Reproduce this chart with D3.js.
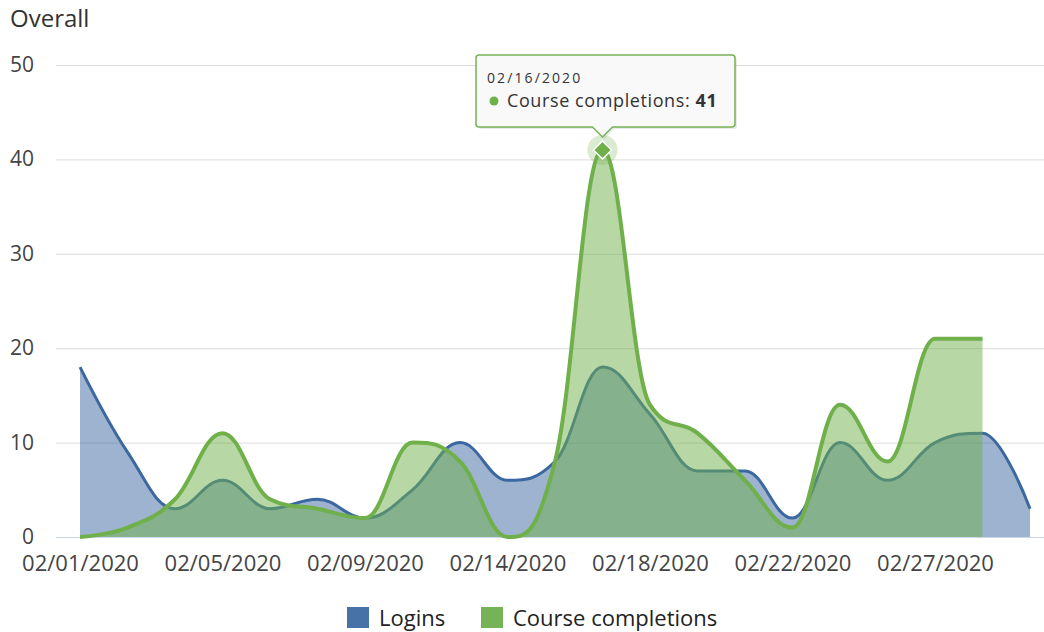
<!DOCTYPE html>
<html>
<head>
<meta charset="utf-8">
<script src="https://cdn.jsdelivr.net/npm/d3@7"></script>
<style>
  body { margin: 0; background: #fff; }
  svg { display: block; font-family: "Open Sans", sans-serif; }
</style>
</head>
<body>
<svg id="chart" width="1044" height="632"></svg>
<script>
// categories (dates that have data)
var dates = ["02/01/2020", "02/03/2020", "02/04/2020", "02/05/2020", "02/06/2020", "02/07/2020",
    "02/09/2020", "02/10/2020", "02/11/2020", "02/14/2020", "02/15/2020", "02/16/2020",
    "02/18/2020", "02/19/2020", "02/20/2020", "02/22/2020", "02/24/2020", "02/25/2020",
    "02/27/2020", "02/28/2020", "02/29/2020"];

var logins = [18, 9, 3, 6, 3, 4, 2, 5, 10, 6, 8, 18, 13, 7, 7, 2, 10, 6, 10, 11, 3];
var completions = [0, 1, 4, 11, 4, 3, 2, 10, 8, 0, 8, 41, 14, 11, 6, 1, 14, 8, 21, 21, null];

var yTicks = [0, 10, 20, 30, 40, 50];
var seriesNames = ["Logins", "Course completions"];
var colors = ["#4672a8", "#76b356"];

var svg = d3.select("#chart");
var plot = { left: 56, right: 1044, top: 65, bottom: 537 };

var x = d3.scalePoint().domain(dates).range([80, 1030]);
var y = d3.scaleLinear().domain([0, 50]).range([plot.bottom, plot.top]);

// spline like the one the original chart tool uses (smoothing 1.5, flat at extremes)
function SplineCurve(context) { this._context = context; }
SplineCurve.prototype = {
    areaStart: function () { this._line = 0; },
    areaEnd: function () { this._line = NaN; },
    lineStart: function () { this._x = []; this._y = []; },
    point: function (px, py) { this._x.push(+px); this._y.push(+py); },
    lineEnd: function () {
        var xs = this._x, ys = this._y, n = xs.length, c = this._context;
        if (n) {
            if (this._line) c.lineTo(xs[0], ys[0]); else c.moveTo(xs[0], ys[0]);
            var lc = [], rc = [];
            for (var i = 0; i < n; i++) {
                if (i === 0 || i === n - 1) {
                    lc.push([xs[i], ys[i]]); rc.push([xs[i], ys[i]]);
                    continue;
                }
                var lx = (1.5 * xs[i] + xs[i - 1]) / 2.5, ly = (1.5 * ys[i] + ys[i - 1]) / 2.5;
                var rx = (1.5 * xs[i] + xs[i + 1]) / 2.5, ry = (1.5 * ys[i] + ys[i + 1]) / 2.5;
                if (rx !== lx) {
                    var corr = ((ry - ly) * (rx - xs[i])) / (rx - lx) + ys[i] - ry;
                    ly += corr; ry += corr;
                }
                if (ly > ys[i - 1] && ly > ys[i]) { ly = Math.max(ys[i - 1], ys[i]); ry = 2 * ys[i] - ly; }
                else if (ly < ys[i - 1] && ly < ys[i]) { ly = Math.min(ys[i - 1], ys[i]); ry = 2 * ys[i] - ly; }
                if (ry > ys[i + 1] && ry > ys[i]) { ry = Math.max(ys[i + 1], ys[i]); ly = 2 * ys[i] - ry; }
                else if (ry < ys[i + 1] && ry < ys[i]) { ry = Math.min(ys[i + 1], ys[i]); ly = 2 * ys[i] - ry; }
                lc.push([lx, ly]); rc.push([rx, ry]);
            }
            for (i = 1; i < n; i++) {
                c.bezierCurveTo(rc[i - 1][0], rc[i - 1][1], lc[i][0], lc[i][1], xs[i], ys[i]);
            }
        }
        if (this._line || (this._line !== 0 && n === 1)) c.closePath();
        this._line = 1 - this._line;
    }
};
function curveSpline(context) { return new SplineCurve(context); }

// title
svg.append("text")
    .attr("x", 10).attr("y", 27)
    .attr("font-size", 24)
    .attr("fill", "#333")
    .text("Overall");

// grid lines
svg.append("g").selectAll("line").data(yTicks).enter().append("line")
    .attr("x1", plot.left).attr("x2", plot.right)
    .attr("y1", function (d) { return y(d) + 0.5; })
    .attr("y2", function (d) { return y(d) + 0.5; })
    .attr("stroke", function (d) { return d === 0 ? "#ccd6eb" : "#dcdcdc"; })
    .attr("stroke-width", 1);

// y labels
svg.append("g").selectAll("text").data(yTicks).enter().append("text")
    .attr("x", 34)
    .attr("y", function (d) { return y(d) + 7; })
    .attr("text-anchor", "end")
    .attr("font-size", 21)
    .attr("fill", "#444")
    .text(function (d) { return d; });

// x axis
var xAxis = d3.axisBottom(x)
    .tickValues(dates.filter(function (d, i) { return i % 3 === 0; }))
    .tickSize(0)
    .tickPadding(18);

var gx = svg.append("g")
    .attr("transform", "translate(0," + plot.bottom + ")")
    .call(xAxis);
gx.select(".domain").remove();
gx.selectAll("text")
    .attr("font-size", 22)
    .attr("font-family", "Open Sans, sans-serif")
    .attr("fill", "#444");

// areas + lines
function drawSeries(values, color, width) {
    var pts = values.map(function (v, i) { return { d: dates[i], v: v }; })
        .filter(function (p) { return p.v !== null; });

    var area = d3.area()
        .curve(curveSpline)
        .x(function (p) { return x(p.d); })
        .y0(y(0))
        .y1(function (p) { return y(p.v); });

    var line = d3.line()
        .curve(curveSpline)
        .x(function (p) { return x(p.d); })
        .y(function (p) { return y(p.v); });

    svg.append("path")
        .attr("d", area(pts))
        .attr("fill", color)
        .attr("fill-opacity", 0.5);

    svg.append("path")
        .attr("d", line(pts))
        .attr("fill", "none")
        .attr("stroke", color)
        .attr("stroke-width", width)
        .attr("stroke-linejoin", "round");
}

drawSeries(logins, "#3b68a0", 3);
drawSeries(completions, "#6fb04b", 4);

// hovered point
var hi = 11;
var hx = x(dates[hi]), hy = y(completions[hi]);

svg.append("circle")
    .attr("cx", hx).attr("cy", hy).attr("r", 15)
    .attr("fill", "#6fb04b").attr("fill-opacity", 0.25);

svg.append("path")
    .attr("d", d3.symbol().type(d3.symbolDiamond2).size(210)())
    .attr("transform", "translate(" + hx + "," + hy + ")")
    .attr("fill", "#6fb04b")
    .attr("stroke", "#fff")
    .attr("stroke-width", 1.5);

// tooltip
var tip = { x: 476, y: 55, w: 259, h: 72, r: 3 };
var tipY = hy - 13;
var tipPath = "M" + (tip.x + tip.r) + "," + tip.y +
    " H" + (tip.x + tip.w - tip.r) +
    " Q" + (tip.x + tip.w) + "," + tip.y + " " + (tip.x + tip.w) + "," + (tip.y + tip.r) +
    " V" + (tip.y + tip.h - tip.r) +
    " Q" + (tip.x + tip.w) + "," + (tip.y + tip.h) + " " + (tip.x + tip.w - tip.r) + "," + (tip.y + tip.h) +
    " H" + (hx + 10) + " L" + hx + "," + tipY + " L" + (hx - 10) + "," + (tip.y + tip.h) +
    " H" + (tip.x + tip.r) +
    " Q" + tip.x + "," + (tip.y + tip.h) + " " + tip.x + "," + (tip.y + tip.h - tip.r) +
    " V" + (tip.y + tip.r) +
    " Q" + tip.x + "," + tip.y + " " + (tip.x + tip.r) + "," + tip.y + " Z";

svg.append("path")
    .attr("d", tipPath)
    .attr("transform", "translate(2,2)")
    .attr("fill", "#000").attr("fill-opacity", 0.08);

svg.append("path")
    .attr("d", tipPath)
    .attr("fill", "#f9f9f9").attr("fill-opacity", 0.96)
    .attr("stroke", "#76b356").attr("stroke-width", 1.5);

svg.append("text")
    .attr("x", tip.x + 11).attr("y", tip.y + 28)
    .attr("font-size", 14)
    .attr("letter-spacing", 2.1)
    .attr("fill", "#333")
    .text(dates[hi]);

svg.append("circle")
    .attr("cx", tip.x + 18).attr("cy", tip.y + 46).attr("r", 4.5)
    .attr("fill", "#6fb04b");

var t2 = svg.append("text")
    .attr("x", tip.x + 31).attr("y", tip.y + 52)
    .attr("font-size", 18)
    .attr("letter-spacing", 0.6)
    .attr("fill", "#333");
t2.append("tspan").text(seriesNames[1] + ": ");
t2.append("tspan").attr("font-weight", "bold").text(completions[hi]);

// legend
var legend = svg.append("g").attr("transform", "translate(347,607)");
var lx = [0, 134];
seriesNames.forEach(function (name, i) {
    legend.append("rect")
        .attr("x", lx[i]).attr("y", 0)
        .attr("width", 22).attr("height", 21)
        .attr("fill", colors[i]);
    legend.append("text")
        .attr("x", lx[i] + 32).attr("y", 19)
        .attr("font-size", 22)
        .attr("fill", "#222")
        .text(name);
});
</script>
</body>
</html>
